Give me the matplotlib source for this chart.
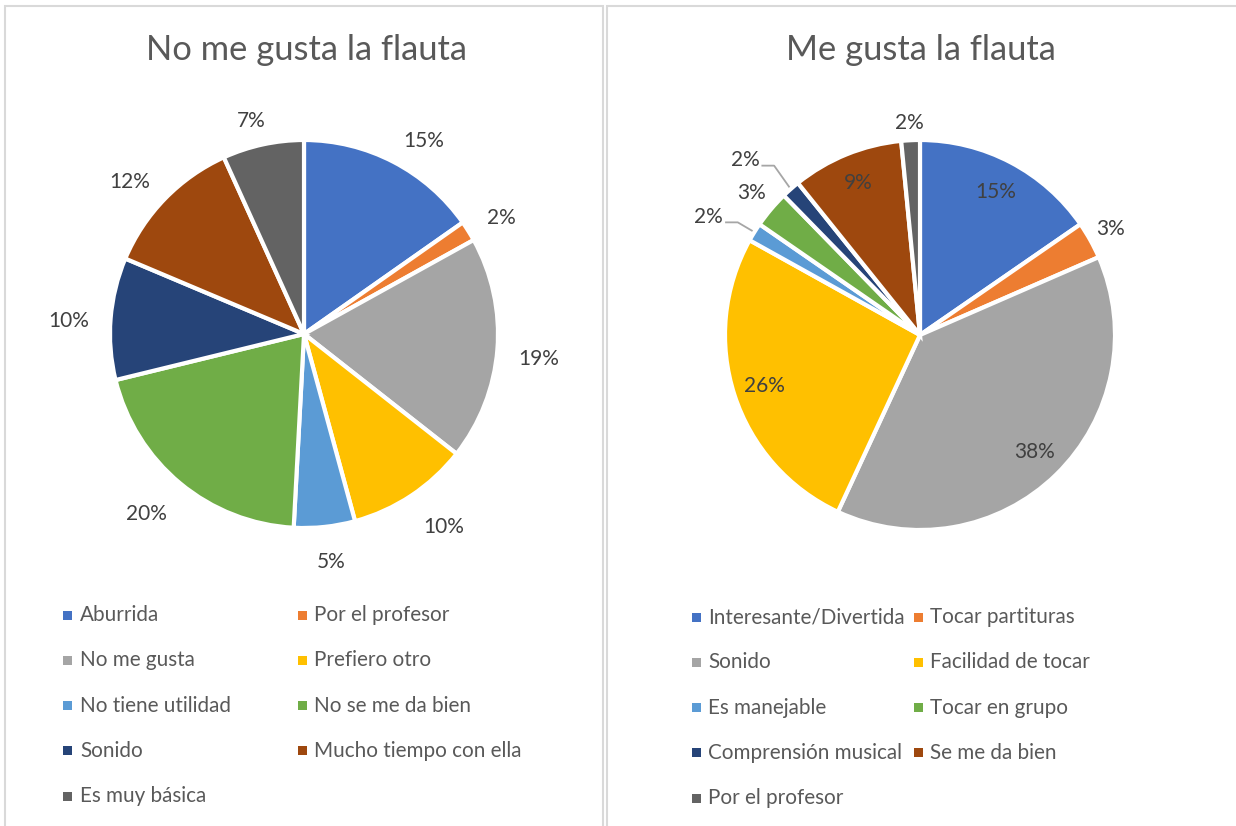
import matplotlib
matplotlib.use('Agg')
import matplotlib.pyplot as plt
import numpy as np
from matplotlib.patches import Rectangle

# respuestas estimadas (coinciden con los % del grafico y con los angulos)
no_labels = ['Aburrida', 'Por el profesor', 'No me gusta', 'Prefiero otro',
             'No tiene utilidad', 'No se me da bien', 'Sonido',
             'Mucho tiempo con ella', 'Es muy básica']
no_values = [9, 1, 11, 6, 3, 12, 6, 7, 4]

si_labels = ['Interesante/Divertida', 'Tocar partituras', 'Sonido',
             'Facilidad de tocar', 'Es manejable', 'Tocar en grupo',
             'Comprensión musical', 'Se me da bien', 'Por el profesor']
si_values = [10, 2, 25, 17, 1, 2, 1, 6, 1]

colors = ['#4472C4', '#ED7D31', '#A5A5A5', '#FFC000', '#5B9BD5',
          '#70AD47', '#264478', '#9E480E', '#636363']

# estilo de etiquetas del grafico de la derecha
si_pct_r = [0.83, 1.12, 0.84, 0.84, None, 1.13, None, 0.84, 1.09]
si_leader_dy = {4: 0.05, 6: 0.12}   # subida del tramo oblicuo

plt.rcParams['font.family'] = ['Lato', 'DejaVu Sans']
W, H = 1236, 826
fig = plt.figure(figsize=(W / 100, H / 100), dpi=100)
fig.patch.set_facecolor('white')

txt_dark = '#404040'
txt_gray = '#595959'


def fx(x):
    return x / W


def fy(y):
    return 1 - y / H


# marcos de los dos graficos
for x0, x1 in [(5, 603), (607, 1250)]:
    fig.patches.append(Rectangle((fx(x0), fy(840)), fx(x1 - x0), (840 - 6) / H,
                                 transform=fig.transFigure, fill=False,
                                 edgecolor='#D9D9D9', linewidth=1.5))


def pie_axes(cx, cy, hw=300, hh=260):
    return fig.add_axes([fx(cx - hw), fy(cy + hh), 2 * hw / W, 2 * hh / H])


def set_lims(ax, r, hw=300, hh=260):
    ax.set_xlim(-hw / r, hw / r)
    ax.set_ylim(-hh / r, hh / r)
    ax.axis('off')


def legend(labels, x_mark, x_text, y_rows):
    for i, lab in enumerate(labels):
        row, col = i // 2, i % 2
        y = y_rows + row * 45.3
        fig.patches.append(Rectangle((fx(x_mark[col]), fy(y + 4.5)), 9 / W, 9 / H,
                                     transform=fig.transFigure,
                                     facecolor=colors[i], edgecolor='none'))
        fig.text(fx(x_text[col]), fy(y), lab, fontsize=14.9, color=txt_gray,
                 ha='left', va='center')


# ---- No me gusta la flauta ----
R = 194
ax1 = pie_axes(304, 334)
w1, t1, a1 = ax1.pie(no_values, colors=colors, startangle=90, counterclock=False,
                     autopct=lambda p: f'{p:.0f}%', pctdistance=1.11,
                     wedgeprops=dict(edgecolor='white', linewidth=3),
                     textprops=dict(color=txt_dark, fontsize=15))
set_lims(ax1, R)
renderer = fig.canvas.get_renderer()
# etiquetas fuera: la esquina mas cercana del texto toca el punto de anclaje
for w, t in zip(w1, a1):
    ang = np.deg2rad((w.theta1 + w.theta2) / 2)
    ux, uy = np.cos(ang), np.sin(ang)
    bb = t.get_window_extent(renderer)
    hw, hh = bb.width / 2 / R, bb.height / 2 / R * 0.8
    x = 1.11 * ux + np.clip(ux * 2.5, -1, 1) * hw
    y = 1.11 * uy + np.clip(uy * 2.5, -1, 1) * hh - 0.03
    t.set_position((x, y))
fig.text(fx(306), fy(50), 'No me gusta la flauta', fontsize=24.8, color=txt_gray,
         ha='center', va='center')
legend(no_labels, [63, 298], [80, 314], 615)

# ---- Me gusta la flauta ----
R2 = 195
ax2 = pie_axes(920, 335)
w2, t2, a2 = ax2.pie(si_values, colors=colors, startangle=90, counterclock=False,
                     autopct=lambda p: f'{p:.0f}%',
                     wedgeprops=dict(edgecolor='white', linewidth=3),
                     textprops=dict(color=txt_dark, fontsize=15))
set_lims(ax2, R2)
for i, (w, t, r) in enumerate(zip(w2, a2, si_pct_r)):
    ang = np.deg2rad((w.theta1 + w.theta2) / 2)
    ex, ey = np.cos(ang), np.sin(ang)
    if i in si_leader_dy:
        # linea guia: oblicua desde el borde y luego horizontal
        kx, ky = ex - 0.085, ey + si_leader_dy[i]
        lx = kx - 0.065
        ax2.plot([ex, kx, lx], [ey, ky, ky], color='#A6A6A6',
                 linewidth=1.3, zorder=0, solid_capstyle='butt')
        t.set_position((lx - 0.01, ky + 0.03))
        t.set_ha('right')
    else:
        t.set_position((r * ex, r * ey))
fig.text(fx(921), fy(50), 'Me gusta la flauta', fontsize=24.8, color=txt_gray,
         ha='center', va='center')
legend(si_labels, [692, 914], [708, 930], 617)

fig.savefig('out.png', dpi=100)
